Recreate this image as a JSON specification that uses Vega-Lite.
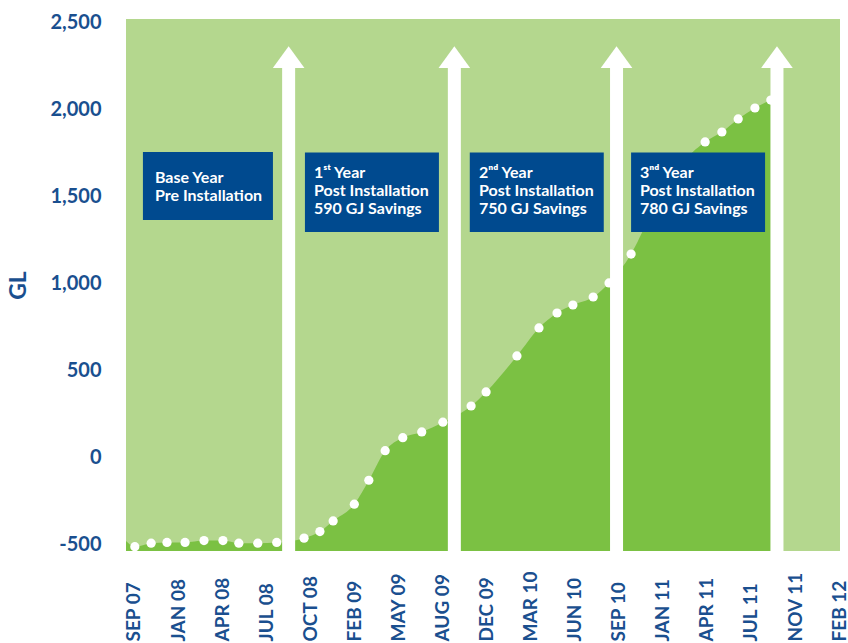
{
  "$schema": "https://vega.github.io/schema/vega-lite/v6.json",
  "width": 714,
  "height": 532,
  "autosize": {"type": "none"},
  "padding": {"left": 126, "top": 19, "right": 8, "bottom": 92},
  "background": "white",
  "config": {"view": {"fill": "#b4d78e", "stroke": null}, "font": "Lato"},
  "datasets": {
    "curve": [
      {"i": -0.18, "v": -482, "dot": false},
      {"i": 0.02, "v": -515, "dot": true},
      {"i": 0.39, "v": -495, "dot": true},
      {"i": 0.75, "v": -491, "dot": true},
      {"i": 1.16, "v": -491, "dot": true},
      {"i": 1.59, "v": -480, "dot": true},
      {"i": 2.02, "v": -480, "dot": true},
      {"i": 2.38, "v": -495, "dot": true},
      {"i": 2.81, "v": -495, "dot": true},
      {"i": 3.24, "v": -491, "dot": true},
      {"i": 3.86, "v": -466, "dot": true},
      {"i": 4.22, "v": -428, "dot": true},
      {"i": 4.52, "v": -367, "dot": true},
      {"i": 5.0, "v": -271, "dot": true},
      {"i": 5.33, "v": -133, "dot": true},
      {"i": 5.7, "v": 37, "dot": true},
      {"i": 6.1, "v": 112, "dot": true},
      {"i": 6.53, "v": 145, "dot": true},
      {"i": 7.01, "v": 201, "dot": true},
      {"i": 7.65, "v": 294, "dot": true},
      {"i": 7.99, "v": 375, "dot": true},
      {"i": 8.69, "v": 582, "dot": true},
      {"i": 9.19, "v": 743, "dot": true},
      {"i": 9.6, "v": 829, "dot": true},
      {"i": 9.96, "v": 875, "dot": true},
      {"i": 10.42, "v": 921, "dot": true},
      {"i": 10.78, "v": 1002, "dot": true},
      {"i": 11.28, "v": 1168, "dot": true},
      {"i": 11.66, "v": 1358, "dot": true},
      {"i": 12.12, "v": 1554, "dot": true},
      {"i": 12.53, "v": 1715, "dot": true},
      {"i": 12.96, "v": 1813, "dot": true},
      {"i": 13.34, "v": 1870, "dot": true},
      {"i": 13.71, "v": 1945, "dot": true},
      {"i": 14.09, "v": 2008, "dot": true},
      {"i": 14.45, "v": 2054, "dot": true}
    ],
    "arrows": [
      {"i": 3.51, "head": 2301, "top": 2250, "bottom": -540},
      {"i": 7.27, "head": 2301, "top": 2250, "bottom": -540},
      {"i": 10.95, "head": 2301, "top": 2250, "bottom": -540},
      {"i": 14.59, "head": 2301, "top": 2250, "bottom": -540}
    ],
    "boxes": [
      {"i": 0.204, "i2": 3.154, "v": 1364, "v2": 1755},
      {"i": 3.88, "i2": 6.92, "v": 1295, "v2": 1752},
      {"i": 7.62, "i2": 10.66, "v": 1295, "v2": 1752},
      {"i": 11.28, "i2": 14.32, "v": 1295, "v2": 1752}
    ],
    "labels": [
      {"i": 0.477, "v": 1577, "t": ["Base Year", "Pre Installation"]},
      {"i": 4.084, "v": 1608, "t": ["1ˢᵗ Year", "Post Installation", "590 GJ Savings"]},
      {"i": 7.828, "v": 1608, "t": ["2ⁿᵈ Year", "Post Installation", "750 GJ Savings"]},
      {"i": 11.48, "v": 1608, "t": ["3ⁿᵈ Year", "Post Installation", "780 GJ Savings"]}
    ]
  },
  "layer": [
    {
      "data": {"name": "curve"},
      "mark": {"type": "area", "interpolate": "monotone", "color": "#7bc143"},
      "encoding": {
        "x": {
          "field": "i", "type": "quantitative",
          "scale": {"domain": [-0.18, 16.02], "nice": false, "zero": false},
          "axis": {
            "title": null,
            "values": [0,1,2,3,4,5,6,7,8,9,10,11,12,13,14,15,16],
            "labelExpr": "['SEP 07','JAN 08','APR 08','JUL 08','OCT 08','FEB 09','MAY 09','AUG 09','DEC 09','MAR 10','JUN 10','SEP 10','JAN 11','APR 11','JUL 11','NOV 11','FEB 12'][datum.value]",
            "labelAngle": -90,
            "labelAlign": "left",
            "labelBaseline": "middle",
            "labelPadding": 90,
            "labelFontSize": 19,
            "labelFontWeight": "bold",
            "labelFont": "Lato",
            "labelColor": "#1a4f8f",
            "labelFlush": false,
            "labelOverlap": false,
            "labelBound": false,
            "ticks": false,
            "domain": false,
            "grid": false
          }
        },
        "y": {
          "field": "v", "type": "quantitative",
          "scale": {"domain": [-540, 2520], "nice": false, "zero": false},
          "axis": {
            "title": "GL",
            "values": [-500, 0, 500, 1000, 1500, 2000, 2500],
            "labelExpr": "replace(format(datum.value, ',.0f'), '−', '-')",
            "labelPadding": 25,
            "labelFontSize": 20,
            "labelFontWeight": "bold",
            "labelFont": "Lato",
            "labelColor": "#1a4f8f",
            "titleFontSize": 23,
            "titleFontWeight": "bold",
            "titleFont": "Lato",
            "titleColor": "#1a4f8f",
            "titlePadding": 19,
            "ticks": false,
            "domain": false,
            "grid": false
          }
        },
        "y2": {"datum": -540}
      }
    },
    {
      "data": {"name": "curve"},
      "transform": [{"filter": "datum.dot"}],
      "mark": {"type": "circle", "color": "white", "size": 85, "opacity": 1},
      "encoding": {
        "x": {"field": "i", "type": "quantitative", "title": null},
        "y": {"field": "v", "type": "quantitative", "title": "GL"}
      }
    },
    {
      "data": {"name": "arrows"},
      "mark": {"type": "rule", "color": "white", "strokeWidth": 13},
      "encoding": {
        "x": {"field": "i", "type": "quantitative", "title": null},
        "y": {"field": "top", "type": "quantitative", "title": "GL"},
        "y2": {"field": "bottom"}
      }
    },
    {
      "data": {"name": "arrows"},
      "mark": {"type": "point", "shape": "M-1,0.6875L0,-0.6875L1,0.6875Z", "size": 1000, "filled": true, "color": "white", "opacity": 1, "strokeWidth": 0},
      "encoding": {
        "x": {"field": "i", "type": "quantitative", "title": null},
        "y": {"field": "head", "type": "quantitative", "title": "GL"}
      }
    },
    {
      "data": {"name": "boxes"},
      "mark": {"type": "rect", "color": "#004a8f"},
      "encoding": {
        "x": {"field": "i", "type": "quantitative", "title": null},
        "x2": {"field": "i2"},
        "y": {"field": "v", "type": "quantitative", "title": "GL"},
        "y2": {"field": "v2"}
      }
    },
    {
      "data": {"name": "labels"},
      "mark": {"type": "text", "align": "left", "baseline": "alphabetic", "color": "white", "fontSize": 16, "fontWeight": "bold", "font": "Lato", "lineHeight": 18},
      "encoding": {
        "x": {"field": "i", "type": "quantitative", "title": null},
        "y": {"field": "v", "type": "quantitative", "title": "GL"},
        "text": {"field": "t"}
      }
    }
  ]
}
